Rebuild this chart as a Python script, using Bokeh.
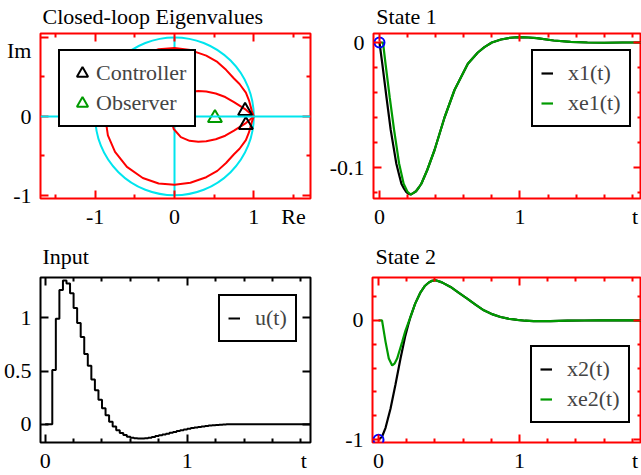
from bokeh.plotting import figure
from bokeh.models import Range1d, FixedTicker, LinearAxis, Span, Legend, LegendItem
from bokeh.layouts import column, row
from bokeh.embed import file_html
from bokeh.resources import INLINE

# ---------------- data ----------------
# Panel 1: closed-loop eigenvalues (z-plane)
outer_re = [1.0, 0.975, 0.94, 0.90, 0.82, 0.75, 0.65, 0.54, 0.40, 0.20, 0.0, -0.20, -0.40, -0.60, -0.75, -0.84,
            -0.875, -0.84, -0.75, -0.60, -0.40, -0.20, 0.0, 0.20, 0.40, 0.54, 0.65, 0.75, 0.82, 0.90, 0.94,
            0.975, 1.0]
outer_im = [0.0, 0.07, 0.20, 0.30, 0.41, 0.48, 0.59, 0.69, 0.77, 0.84, 0.865, 0.85, 0.78, 0.64, 0.45, 0.24,
            0.0, -0.24, -0.45, -0.64, -0.78, -0.85, -0.865, -0.84, -0.77, -0.69, -0.59, -0.48, -0.41, -0.30,
            -0.20, -0.07, 0.0]
inner_re = [1.0, 0.90, 0.75, 0.64, 0.52, 0.40, 0.30, 0.19, 0.08, -0.01, -0.03, -0.04,
            -0.03, -0.01, 0.08, 0.19, 0.30, 0.40, 0.52, 0.64, 0.75, 0.90, 1.0]
inner_im = [0.0, 0.085, 0.18, 0.245, 0.29, 0.315, 0.322, 0.31, 0.262, 0.16, 0.08, 0.0,
            -0.08, -0.16, -0.262, -0.31, -0.322, -0.315, -0.29, -0.245, -0.18, -0.085, 0.0]
ctrl_re = [0.89, 0.90]
ctrl_im = [0.07, -0.11]
obs_re = [0.51]
obs_im = [-0.02]
unit_center = [0.0]
unit_diam = [2.0]
imag_axis_x = [0.0]
imag_axis_y0 = [-1.0]
imag_axis_y1 = [1.0]

# Panel 2: state 1
t_x1 = [0, 0.02, 0.05, 0.08, 0.12, 0.14, 0.156, 0.175, 0.19, 0.205, 0.222, 0.24, 0.26, 0.28, 0.298, 0.34,
        0.392, 0.463, 0.534, 0.629, 0.70, 0.747, 0.80, 0.865, 0.93, 0.995, 1.06, 1.12, 1.24, 1.36, 1.48,
        1.6, 1.73, 1.87]
x1 = [0, -0.017, -0.044, -0.070, -0.097, -0.106, -0.113, -0.117, -0.1195, -0.121, -0.1216, -0.1205, -0.119,
      -0.116, -0.113, -0.102, -0.086, -0.060, -0.038, -0.017, -0.008, -0.0037, 0.0, 0.0024, 0.0038, 0.0043,
      0.004, 0.0035, 0.0016, 0.0005, 0.0, -0.0002, 0.0, 0.0]
t_xe1 = [0, 0.025, 0.043, 0.073, 0.104, 0.14, 0.172, 0.2, 0.222, 0.24, 0.26, 0.28, 0.298, 0.34,
         0.392, 0.463, 0.534, 0.629, 0.70, 0.747, 0.80, 0.865, 0.93, 0.995, 1.06, 1.12, 1.24, 1.36, 1.48,
         1.6, 1.73, 1.87]
xe1 = [0, 0, -0.017, -0.044, -0.070, -0.097, -0.113, -0.1195, -0.1216, -0.1205, -0.119,
       -0.116, -0.113, -0.102, -0.086, -0.060, -0.038, -0.017, -0.008, -0.0037, 0.0, 0.0024, 0.0038, 0.0043,
       0.004, 0.0035, 0.0016, 0.0005, 0.0, -0.0002, 0.0, 0.0]

# Panel 3: input (zero-order hold, sample time 0.025)
t_u = [0.0, 0.025, 0.05, 0.075, 0.1, 0.125, 0.15, 0.175, 0.2, 0.225, 0.25, 0.275, 0.3, 0.325, 0.35, 0.375,
       0.4, 0.425, 0.45, 0.475, 0.5, 0.525, 0.55, 0.575, 0.6, 0.625, 0.65, 0.675, 0.7, 0.725, 0.75, 0.775,
       0.8, 0.825, 0.85, 0.875, 0.9, 0.925, 0.95, 0.975, 1.0, 1.025, 1.05, 1.075, 1.1, 1.125, 1.15, 1.175,
       1.2, 1.225, 1.25, 1.275, 1.3, 1.325, 1.35, 1.375, 1.4, 1.425, 1.45, 1.475, 1.5, 1.525, 1.55, 1.575,
       1.6, 1.625, 1.65, 1.675, 1.7, 1.725, 1.75, 1.775, 1.8, 1.825, 1.85, 1.875]
u = [0, 0, 0.51, 0.99, 1.26, 1.35, 1.32, 1.23, 1.09, 0.95, 0.82, 0.66, 0.55, 0.42, 0.32, 0.23,
     0.15, 0.085, 0.025, -0.02, -0.055, -0.08, -0.10, -0.115, -0.125, -0.13, -0.133, -0.133, -0.13, -0.125,
     -0.118, -0.11, -0.103, -0.095, -0.087, -0.079, -0.071, -0.063, -0.055, -0.048, -0.041, -0.035, -0.029,
     -0.024, -0.019, -0.015, -0.011, -0.008, -0.005, -0.003, -0.001, 0, 0, 0, 0, 0, 0, 0, 0, 0, 0, 0, 0,
     0, 0, 0, 0, 0, 0, 0, 0, 0, 0, 0, 0, 0]

# Panel 4: state 2
t_x2 = [0, 0.025, 0.05, 0.085, 0.12, 0.156, 0.19, 0.21, 0.227, 0.26, 0.298, 0.33, 0.357, 0.38, 0.405, 0.45,
        0.511, 0.57, 0.629, 0.69, 0.747, 0.81, 0.865, 0.92, 0.984, 1.04, 1.10, 1.22, 1.34, 1.46, 1.574, 1.72, 1.87]
x2 = [-1, -0.975, -0.90, -0.74, -0.54, -0.32, -0.13, -0.04, 0.03, 0.14, 0.235, 0.29, 0.317, 0.331, 0.336, 0.318,
      0.28, 0.23, 0.182, 0.13, 0.084, 0.05, 0.028, 0.014, 0.004, -0.003, -0.006, -0.006, -0.003, -0.001, 0, 0, 0]
t_xe2 = [0, 0.025, 0.05, 0.073, 0.097, 0.115, 0.132, 0.15, 0.168, 0.19, 0.21, 0.227, 0.26, 0.298, 0.33, 0.357,
         0.38, 0.405, 0.45, 0.511, 0.57, 0.629, 0.69, 0.747, 0.81, 0.865, 0.92, 0.984, 1.04, 1.10, 1.22, 1.34,
         1.46, 1.574, 1.72, 1.87]
xe2 = [0, 0, -0.18, -0.32, -0.378, -0.36, -0.32, -0.25, -0.18, -0.09, -0.025, 0.03, 0.14, 0.235, 0.29, 0.317,
       0.331, 0.336, 0.318, 0.28, 0.23, 0.182, 0.13, 0.084, 0.05, 0.028, 0.014, 0.004, -0.003, -0.006, -0.006,
       -0.003, -0.001, 0, 0, 0]

# ticks (marks) and tick labels
eig_x_major = [-1, 0, 1]
eig_x_minor = [-1.5, -0.5, 0.5, 1.5]
eig_x_label_pos = [-1, 0, 1, 1.5]
eig_x_labels = ["-1", "0", "1", "Re"]
eig_y_major = [-1, 0, 1]
eig_y_minor = [-0.5, 0.5]
eig_y_label_pos = [-1, 0, 0.84]
eig_y_labels = ["-1", "0", "Im"]
t_major = [0, 1]
t_minor = [0.2, 0.4, 0.6, 0.8, 1.2, 1.4, 1.6, 1.8]
t_label_pos = [0, 1, 1.82]
t_labels = ["0", "1", "t"]
s1_major = [-0.1, 0]
s1_minor = [-0.12, -0.08, -0.06, -0.04, -0.02]
s1_labels = ["-0.1", "0"]
u_major = [0, 0.5, 1]
u_minor = []
u_labels = ["0", "0.5", "1"]
s2_major = [-1, 0]
s2_minor = [-0.8, -0.6, -0.4, -0.2, 0.2]
s2_labels = ["-1", "0"]

titles = ["Closed-loop Eigenvalues", "State 1", "Input", "State 2"]

# ---------------- style ----------------
FONT = "Liberation Serif"
FS = "22px"
RED = "#ff0000"
GREEN = "#009a00"
CYAN = "#00e5ee"
# horizontal centre of each panel title (in the panel's x data units), so the text starts just right of the frame
TITLE_CENTER = [-0.274, 0.193, 0.1445, 0.193]


def add_marks(p, loc, majors, minors, color):
    for pos, length in ((majors, 8), (minors, 4)):
        ax = LinearAxis(ticker=FixedTicker(ticks=[], minor_ticks=pos))
        ax.axis_line_color = None
        ax.major_tick_line_color = None
        ax.minor_tick_line_color = color
        ax.minor_tick_line_width = 2
        ax.minor_tick_in = length
        ax.minor_tick_out = 0
        ax.major_tick_out = 0
        ax.major_label_standoff = 0
        p.add_layout(ax, loc)


def add_labels(p, loc, pos, labels, standoff):
    ax = LinearAxis(ticker=FixedTicker(ticks=pos, minor_ticks=[]))
    ax.major_label_overrides = {float(k): lab for k, lab in zip(pos, labels)}
    ax.axis_line_color = None
    ax.major_tick_line_color = None
    ax.minor_tick_line_color = None
    ax.major_tick_in = 0
    ax.major_tick_out = 0
    ax.minor_tick_out = 0
    ax.major_label_text_font = FONT
    ax.major_label_text_font_size = FS
    ax.major_label_text_color = "black"
    ax.major_label_standoff = standoff
    p.add_layout(ax, loc)


def make_fig(w, h, xr, yr, mb, color):
    p = figure(width=w, height=h, x_range=Range1d(*xr), y_range=Range1d(*yr),
               x_axis_type=None, y_axis_type=None, output_backend="svg", toolbar_location=None,
               min_border_left=mb[0], min_border_right=mb[1], min_border_top=mb[2], min_border_bottom=mb[3])
    p.grid.visible = False
    p.outline_line_color = color
    p.outline_line_width = 2
    p.background_fill_color = "white"
    p.border_fill_color = "white"
    return p


def frame_ticks(p, xmaj, xmin, ymaj, ymin, color):
    add_marks(p, "below", xmaj, xmin, color)
    add_marks(p, "above", xmaj, xmin, color)
    add_marks(p, "left", ymaj, ymin, color)
    add_marks(p, "right", ymaj, ymin, color)


def make_legend(p, items, loc, glyph_w):
    lg = Legend(items=items, location=loc)
    lg.label_text_font = FONT
    lg.label_text_font_size = FS
    lg.glyph_width = glyph_w
    lg.glyph_height = 28
    lg.label_height = 28
    lg.padding = 8
    lg.spacing = 2
    lg.label_standoff = 15 if glyph_w < 20 else 0
    lg.margin = 0
    lg.border_line_color = "black"
    lg.border_line_alpha = 1.0
    lg.border_line_width = 2
    lg.background_fill_color = "white"
    lg.background_fill_alpha = 1.0
    p.add_layout(lg)


T_RANGE = (-0.0426, 1.865)

# ---- panel 1 ----
p1 = make_fig(326, 240, (-1.69, 1.715), (-1.04, 1.05), (40, 16, 33, 42), RED)
p1.ellipse(x=unit_center, y=unit_center, width=unit_diam, height=unit_diam, fill_color=None,
           line_color=CYAN, line_width=2)
p1.add_layout(Span(location=0, dimension="width", line_color=CYAN, line_width=2))
p1.segment(x0=imag_axis_x, y0=imag_axis_y0, x1=imag_axis_x, y1=imag_axis_y1, line_color=CYAN, line_width=2)
p1.line(outer_re, outer_im, line_color=RED, line_width=2)
p1.line(inner_re, inner_im, line_color=RED, line_width=2)
r_ctrl = p1.scatter(ctrl_re, ctrl_im, marker="triangle", size=14, fill_color=None, line_color="black", line_width=2)
r_obs = p1.scatter(obs_re, obs_im, marker="triangle", size=14, fill_color=None, line_color=GREEN, line_width=2)
frame_ticks(p1, eig_x_major, eig_x_minor, eig_y_major, eig_y_minor, RED)
add_labels(p1, "below", eig_x_label_pos, eig_x_labels, 5)
add_labels(p1, "left", eig_y_label_pos, eig_y_labels, 9)
add_labels(p1, "above", [TITLE_CENTER[0]], [titles[0]], 5)
make_legend(p1, [LegendItem(label="Controller", renderers=[r_ctrl]),
                 LegendItem(label="Observer", renderers=[r_obs])], (18, 71), 28)

# ---- panel 2 ----
p2 = make_fig(315, 240, T_RANGE, (-0.1248, 0.0072), (46, 0, 33, 42), RED)
r_x1 = p2.line(t_x1, x1, line_color="black", line_width=2.2)
r_xe1 = p2.line(t_xe1, xe1, line_color=GREEN, line_width=2.2)
p2.scatter([t_x1[0]], [x1[0]], marker="circle", size=10, fill_color=None, line_color="blue", line_width=2)
frame_ticks(p2, t_major, t_minor, s1_major, s1_minor, RED)
add_labels(p2, "below", t_label_pos, t_labels, 5)
add_labels(p2, "left", s1_major, s1_labels, 9)
add_labels(p2, "above", [TITLE_CENTER[1]], [titles[1]], 5)
make_legend(p2, [LegendItem(label="x1(t)", renderers=[r_x1]),
                 LegendItem(label="xe1(t)", renderers=[r_xe1])], (158, 71), 12)

# ---- panel 3 ----
p3 = make_fig(326, 235, (-0.033, 1.868), (-0.17, 1.377), (40, 16, 37, 33), "black")
r_u = p3.step(t_u, u, mode="after", line_color="black", line_width=2)
frame_ticks(p3, t_major, t_minor, u_major, u_minor, "black")
add_labels(p3, "below", t_label_pos, t_labels, 5)
add_labels(p3, "left", u_major, u_labels, 9)
add_labels(p3, "above", [TITLE_CENTER[2]], [titles[2]], 9)
make_legend(p3, [LegendItem(label="u(t)", renderers=[r_u])], (178, 100), 12)

# ---- panel 4 ----
p4 = make_fig(315, 235, T_RANGE, (-1.023, 0.359), (46, 0, 37, 33), RED)
r_x2 = p4.line(t_x2, x2, line_color="black", line_width=2.2)
r_xe2 = p4.line(t_xe2, xe2, line_color=GREEN, line_width=2.2)
p4.scatter([t_x2[0]], [x2[0]], marker="circle", size=10, fill_color=None, line_color="blue", line_width=2)
frame_ticks(p4, t_major, t_minor, s2_major, s2_minor, RED)
add_labels(p4, "below", t_label_pos, t_labels, 5)
add_labels(p4, "left", s2_major, s2_labels, 9)
add_labels(p4, "above", [TITLE_CENTER[3]], [titles[3]], 9)
make_legend(p4, [LegendItem(label="x2(t)", renderers=[r_x2]),
                 LegendItem(label="xe2(t)", renderers=[r_xe2])], (158, 19), 12)

layout = column(row(p1, p2), row(p3, p4))
open("out.html", "w").write(file_html(layout, INLINE))
